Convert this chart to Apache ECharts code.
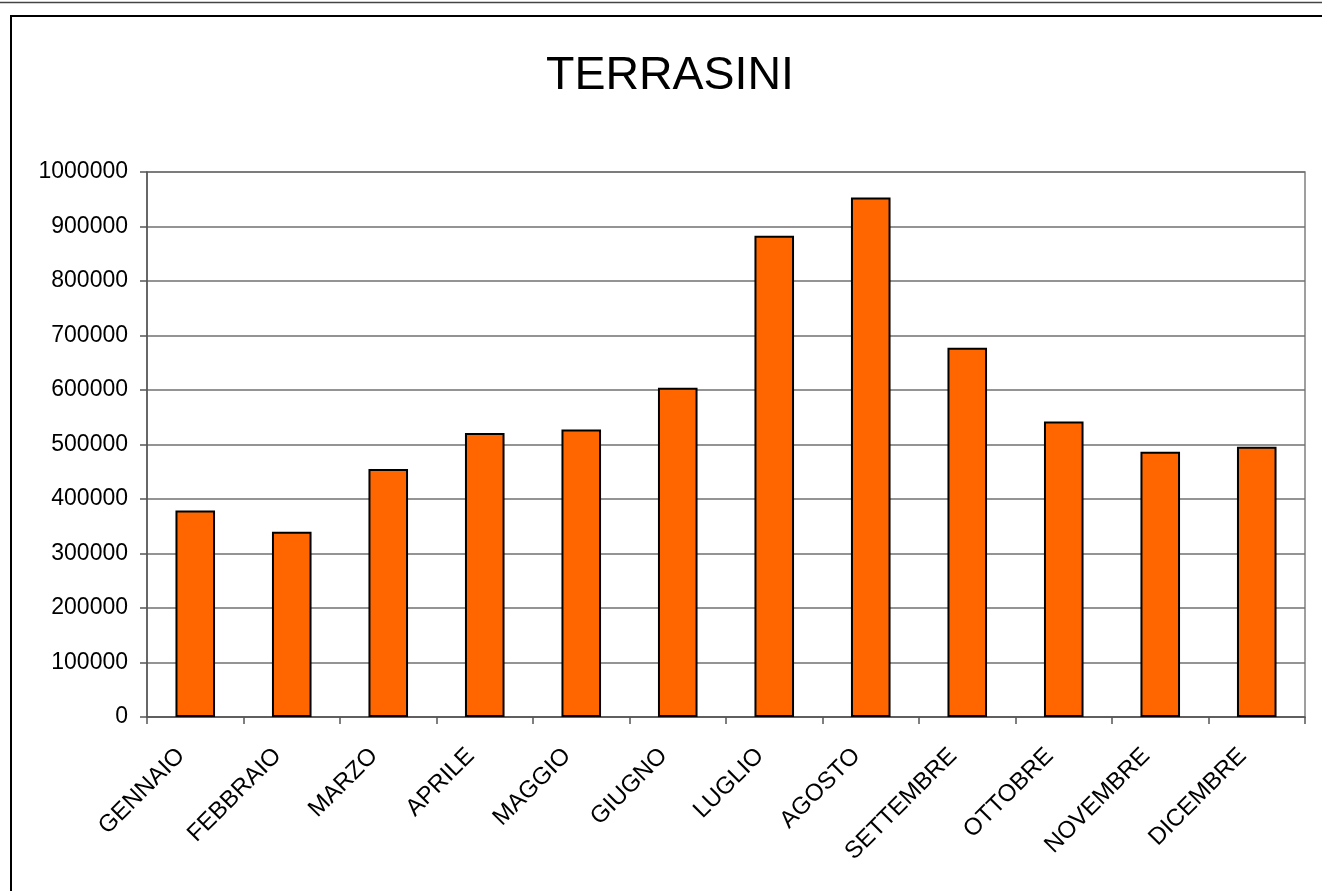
<!DOCTYPE html>
<html>
<head>
<meta charset="utf-8">
<script src="https://cdn.jsdelivr.net/npm/echarts@6/dist/echarts.min.js"></script>
<style>
  html, body { margin: 0; padding: 0; background: #fff; }
  #chart { width: 1322px; height: 891px; }
</style>
</head>
<body>
<div id="chart"></div>
<script>
// dati
var mesi = ['GENNAIO', 'FEBBRAIO', 'MARZO', 'APRILE', 'MAGGIO', 'GIUGNO',
  'LUGLIO', 'AGOSTO', 'SETTEMBRE', 'OTTOBRE', 'NOVEMBRE', 'DICEMBRE'];
var valori = [379000, 340000, 455000, 521000, 527500, 604000,
  883000, 953000, 677500, 542000, 486500, 496000];
var yMin = 0;
var yMax = 1000000;
var yPasso = 100000;

var chart = echarts.init(document.getElementById('chart'));
var font = 'Liberation Sans, Arial, sans-serif';

var option = {
  backgroundColor: '#fff',
  animation: false,
  title: {
    text: 'TERRASINI',
    left: 541,
    top: 48,
    textStyle: {
      fontFamily: font,
      fontSize: 46.5,
      fontWeight: 'normal',
      color: '#000'
    }
  },
  // cornice della pagina
  graphic: [
    { type: 'line', shape: { x1: 0, y1: 2.5, x2: 1322, y2: 2.5 },
      style: { stroke: '#444', lineWidth: 1.5 } },
    { type: 'rect', shape: { x: 11, y: 16, width: 1400, height: 1000 },
      style: { fill: 'none', stroke: '#000', lineWidth: 2 } }
  ],
  grid: {
    left: 147,
    top: 172,
    right: 17,
    bottom: 174,
    show: true,
    borderColor: '#808080',
    borderWidth: 1.5
  },
  xAxis: {
    type: 'category',
    data: mesi,
    axisLine: { lineStyle: { color: '#555', width: 1.5 } },
    axisTick: { show: true, length: 7, lineStyle: { color: '#555', width: 1.5 } },
    axisLabel: {
      rotate: 45,
      margin: 21,
      padding: [0, 20, 0, 0],
      interval: 0,
      color: '#000',
      fontFamily: font,
      fontSize: 24
    }
  },
  yAxis: {
    type: 'value',
    min: yMin,
    max: yMax,
    interval: yPasso,
    axisLine: { show: true, lineStyle: { color: '#555', width: 1.5 } },
    axisTick: { show: true, length: 7, lineStyle: { color: '#555', width: 1.5 } },
    splitLine: { lineStyle: { color: '#707070', width: 1.5 } },
    axisLabel: {
      margin: 19,
      color: '#000',
      fontFamily: font,
      fontSize: 23,
      formatter: function (v) { return String(v); }
    }
  },
  series: [{
    type: 'bar',
    data: valori,
    barWidth: '41%',
    itemStyle: {
      color: '#FF6600',
      borderColor: '#000',
      borderWidth: 2
    }
  }]
};
chart.setOption(option);
</script>
</body>
</html>
